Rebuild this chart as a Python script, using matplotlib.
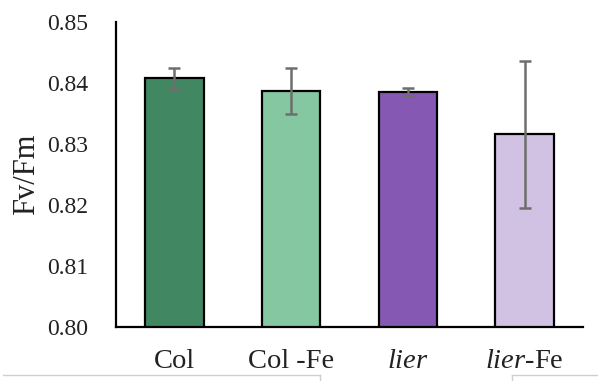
import matplotlib
matplotlib.use('Agg')
import matplotlib.pyplot as plt
from matplotlib.lines import Line2D

# data
categories = ['Col', 'Col -Fe', r'$\it{lier}$', r'$\it{lier}$-Fe']
fvfm = [0.8408, 0.8387, 0.8385, 0.8316]
errors = [0.0017, 0.0037, 0.0007, 0.0121]
colors = ['#418862', '#84C7A0', '#8559B3', '#D1C1E2']

yticks = [0.80, 0.81, 0.82, 0.83, 0.84, 0.85]

plt.rcParams['font.family'] = ['Liberation Serif', 'DejaVu Serif']
plt.rcParams['mathtext.fontset'] = 'custom'
plt.rcParams['mathtext.it'] = 'Liberation Serif:italic'
plt.rcParams['mathtext.rm'] = 'Liberation Serif'

fig = plt.figure(figsize=(5.98, 3.81), dpi=100)
ax = fig.add_axes([0.194, 0.142, 0.781, 0.800])

x = range(len(categories))
ax.bar(x, fvfm, width=0.5, color=colors, edgecolor='black', linewidth=1.6, zorder=2)
ax.errorbar(x, fvfm, yerr=errors, fmt='none', ecolor='#6E6E6E',
            elinewidth=1.8, capsize=4.5, capthick=1.8, zorder=3)

ax.set_xlim(-0.5, 3.5)
ax.set_ylim(0.80, 0.85)
ax.set_yticks(yticks)
ax.set_yticklabels(['%.2f' % v for v in yticks])
ax.set_xticks(list(x))
ax.set_xticklabels(categories)
ax.tick_params(axis='both', length=0, colors='#222222')
ax.tick_params(axis='y', pad=20, labelsize=17)
ax.tick_params(axis='x', pad=16, labelsize=20.5)

ax.set_ylabel('Fv/Fm', fontsize=22, color='#222222', labelpad=4)

ax.spines['top'].set_visible(False)
ax.spines['right'].set_visible(False)
ax.spines['left'].set_linewidth(1.6)
ax.spines['bottom'].set_linewidth(1.6)

# faint screenshot border lines along the bottom
fig.add_artist(Line2D([0.005, 0.535], [0.016, 0.016], color='#CFCFCF', lw=1))
fig.add_artist(Line2D([0.535, 0.535], [0.016, 0.0], color='#CFCFCF', lw=1))
fig.add_artist(Line2D([0.857, 0.857], [0.016, 0.0], color='#CFCFCF', lw=1))
fig.add_artist(Line2D([0.857, 1.0], [0.016, 0.016], color='#CFCFCF', lw=1))

fig.savefig('out.png', dpi=100)
